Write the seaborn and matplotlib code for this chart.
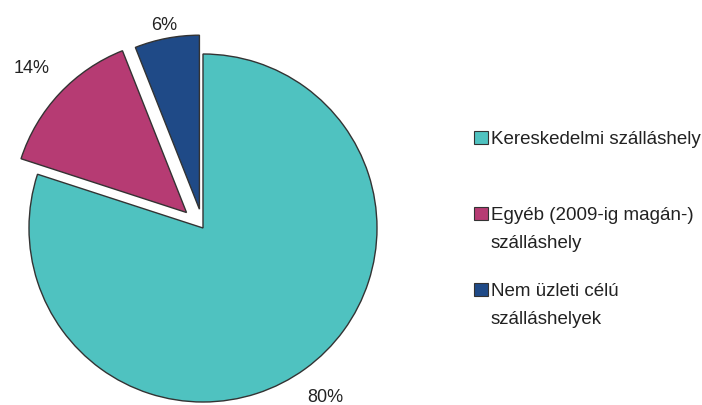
import numpy as np
import seaborn as sns
import matplotlib.pyplot as plt
from matplotlib.patches import Patch, Rectangle
from matplotlib.legend_handler import HandlerPatch

categories = ["Kereskedelmi szálláshely\n",
              "Egyéb (2009-ig magán-)\nszálláshely",
              "Nem üzleti célú\nszálláshelyek"]
shares = [80, 14, 6]
explode = [0, 0.13, 0.11]
label_dist = [1.2, 1.22, 1.08]
colors = ["#4FC2C0", "#B63B73", "#1F4A87"]

sns.set_theme(style="white")
plt.rcParams['font.family'] = ['Liberation Sans', 'DejaVu Sans']

fig = plt.figure(figsize=(7.02, 4.06), dpi=100)
ax = fig.add_axes([0, 0, 1, 1])

r_px = 174.0
cx, cy = 203.0, 406 - 229.0
wedges, texts = ax.pie(shares, colors=colors, explode=explode,
                       startangle=90, counterclock=False,
                       labels=[f"{v}%" for v in shares],
                       wedgeprops=dict(edgecolor="#333333", linewidth=1.0),
                       textprops=dict(fontsize=13, color="#222222"))
# place each percentage label outside its own wedge
for w, t, d in zip(wedges, texts, label_dist):
    w.set_clip_on(False)
    th = np.deg2rad((w.theta1 + w.theta2) / 2)
    x0, y0 = w.center
    t.set_position((x0 + d * w.r * np.cos(th), y0 + d * w.r * np.sin(th)))
    t.set_ha("center")
    t.set_va("center")
ax.set_xlim(-cx / r_px, (702 - cx) / r_px)
ax.set_ylim(-cy / r_px, (406 - cy) / r_px)
ax.set_aspect("auto")
ax.axis("off")

fs = 13.5
line_sp = 1.8


# square on the first text line instead of centred on the block
def first_line_square(legend, orig_handle, xdescent, ydescent, width, height, fontsize):
    shift = 0.52 * fontsize * line_sp * 0.85
    return Rectangle((-xdescent, -ydescent + shift), width, height)


handles = [Patch(facecolor=c, edgecolor="#333333", linewidth=0.8) for c in colors]
leg = ax.legend(handles, categories, loc="upper left", bbox_to_anchor=(0.665, 0.695),
                frameon=False, fontsize=fs, handlelength=0.75, handleheight=0.75,
                handletextpad=0.12, labelspacing=1.68, borderaxespad=0,
                handler_map={Patch: HandlerPatch(patch_func=first_line_square)})
for t in leg.get_texts():
    t.set_linespacing(line_sp)
    t.set_color("#222222")

fig.savefig("out.png", dpi=100)
